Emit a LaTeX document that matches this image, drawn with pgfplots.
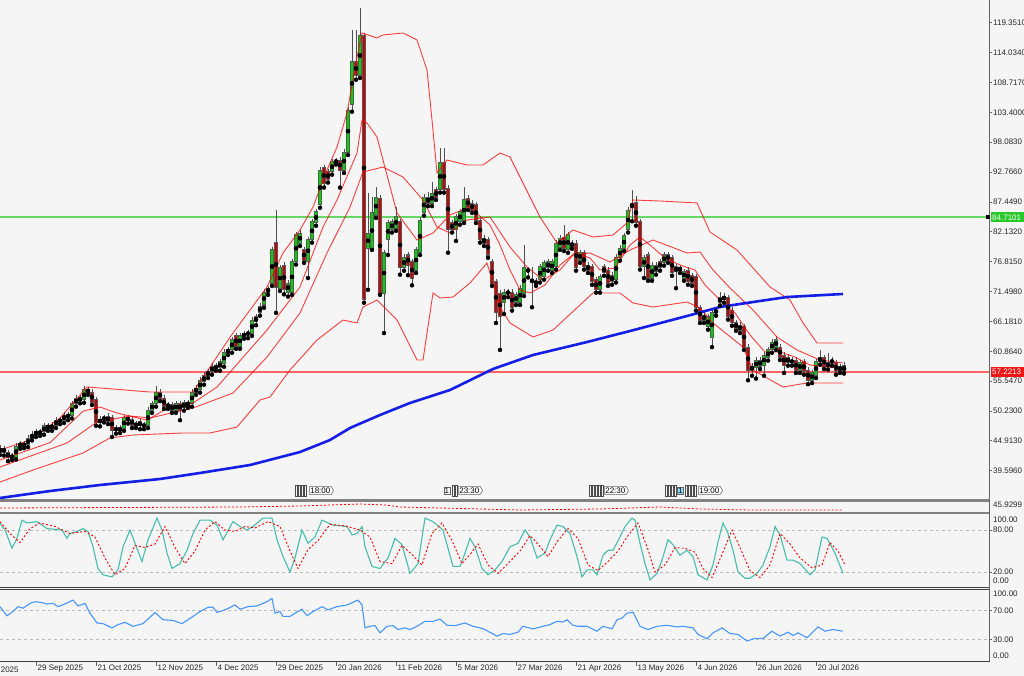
\documentclass[border=0pt]{standalone}
\usepackage{fontspec}
\setmainfont{Liberation Sans}
\usepackage{pgfplots}
\pgfplotsset{compat=1.18}
\usepackage{pgfplotstable}
\usetikzlibrary{shapes.symbols}

\definecolor{bg}{RGB}{245,245,245}
\definecolor{bull}{RGB}{0,215,0}
\definecolor{bear}{RGB}{205,0,0}
\definecolor{wick}{RGB}{80,80,80}
\definecolor{mablue}{RGB}{20,30,230}
\definecolor{stk}{RGB}{70,190,170}
\definecolor{rsib}{RGB}{70,150,255}
\definecolor{levelgreen}{RGB}{100,215,100}
\definecolor{levelred}{RGB}{255,100,100}
\definecolor{boxgreen}{RGB}{40,200,40}
\definecolor{boxred}{RGB}{240,20,20}
\definecolor{sepg}{RGB}{130,130,130}
\definecolor{axg}{RGB}{100,100,100}

\newcommand{\lbl}{\fontsize{8}{9}\selectfont}

\pgfplotstableread{
i O H L C
-9 42.9 44.2 42.4 43.6
-8 43.6 44.0 42.3 42.9
-7 42.9 43.3 41.3 41.9
-6 42.0 42.8 41.5 42.2
-5 42.0 44.5 41.6 44.0
-4 44.0 44.9 43.5 44.4
-3 44.4 44.9 43.6 44.0
-2 44.2 45.9 43.8 45.4
-1 45.4 46.6 45.0 46.1
0 46.1 47.0 45.6 46.5
1 46.5 47.0 45.8 46.3
2 46.5 48.1 46.0 47.6
3 47.6 48.1 46.7 47.2
4 47.2 48.3 46.7 47.7
5 47.7 49.1 47.2 48.6
6 48.6 49.1 47.9 48.4
7 48.6 50.1 48.1 49.5
8 49.5 50.0 48.6 49.2
9 49.4 52.0 48.9 51.5
10 51.5 53.1 51.0 52.5
11 52.5 53.0 51.6 52.2
12 52.2 54.7 51.7 54.0
13 54.0 54.5 53.1 53.6
14 53.6 54.1 51.3 51.8
15 52.2 52.7 47.6 48.1
16 48.1 49.4 47.5 48.8
17 48.8 49.6 48.2 49.0
18 48.4 49.8 47.9 49.2
19 49.0 49.5 45.6 46.8
20 46.8 47.8 46.2 47.2
21 47.2 47.8 46.3 46.8
22 47.2 49.6 46.7 49.0
23 49.0 49.5 48.0 48.6
24 48.8 49.4 47.2 47.7
25 47.7 48.5 47.2 47.9
26 48.3 48.8 47.0 47.6
27 47.6 48.3 47.0 47.7
28 47.7 50.9 47.2 50.4
29 50.4 52.0 49.9 51.5
30 51.5 54.7 51.0 53.6
31 53.6 54.1 52.0 52.5
32 52.5 53.0 50.6 51.1
33 51.1 51.9 50.6 51.3
34 51.3 51.8 49.9 50.4
35 50.4 52.0 49.9 51.5
36 51.5 52.1 48.6 50.4
37 50.8 52.2 50.3 51.7
38 51.7 52.2 50.8 51.3
39 51.5 54.1 51.0 53.6
40 53.6 54.8 53.1 54.3
41 54.0 56.3 53.5 55.7
42 55.4 57.2 54.9 56.6
43 56.6 57.7 56.1 57.2
44 57.2 58.8 56.7 58.2
45 58.2 58.8 57.4 57.9
46 57.9 59.5 57.4 59.0
47 58.6 61.3 58.1 60.7
48 60.7 61.6 60.2 61.1
49 61.1 63.4 60.6 62.9
50 63.6 64.1 61.3 61.8
51 61.8 64.1 61.3 63.6
52 63.6 64.5 63.1 63.9
53 63.9 64.7 63.2 64.1
54 64.1 66.9 63.6 66.4
55 66.1 67.5 65.5 67.0
56 67.7 69.4 67.2 68.9
57 69.1 71.9 68.6 71.4
58 71.4 72.5 70.9 72.0
59 73.0 79.4 72.5 78.9
60 80.3 86.0 67.7 72.3
61 72.1 76.2 71.6 75.7
62 76.2 76.7 71.0 71.8
63 71.4 73.5 70.6 73.0
64 71.4 77.3 70.9 76.8
65 76.8 82.1 76.3 81.6
66 80.1 82.4 79.6 81.9
67 78.9 79.4 76.6 77.1
68 76.8 81.2 73.9 80.7
69 80.7 84.4 80.2 83.9
70 83.7 86.2 83.2 85.7
71 86.9 93.6 86.4 93.1
72 93.5 94.0 90.0 90.8
73 92.8 93.3 90.9 91.4
74 92.8 95.1 92.3 94.6
75 94.7 95.3 94.1 94.6
76 94.9 95.4 90.0 93.1
77 93.1 96.8 92.6 96.3
78 96.3 104.3 95.8 103.8
79 104.7 118.0 103.5 112.4
80 112.4 118.0 109.2 110.0
81 110.0 122.0 109.5 117.0
82 117.0 117.5 69.5 70.0
83 79.2 89.0 71.8 81.9
84 79.2 88.3 78.9 85.5
85 85.1 90.1 84.6 88.3
86 88.1 88.6 70.9 71.2
87 71.2 78.9 64.1 78.4
88 80.7 84.2 78.0 83.7
89 82.5 84.4 82.0 83.9
90 82.8 86.5 82.3 84.8
91 83.9 84.4 74.5 75.7
92 75.7 78.1 75.2 77.6
93 78.0 78.5 74.4 76.2
94 76.8 77.3 72.6 73.9
95 75.3 79.4 74.8 78.9
96 78.5 84.7 78.0 84.2
97 85.5 88.8 85.0 88.3
98 88.3 89.3 86.7 87.2
99 87.2 91.0 86.7 89.0
100 89.6 90.1 87.8 88.3
101 89.6 97.0 89.1 94.4
102 94.4 97.0 89.1 89.6
103 89.9 90.4 78.4 82.5
104 83.7 84.2 82.0 82.5
105 82.5 85.3 80.5 84.8
106 83.9 86.2 83.4 85.7
107 84.2 90.1 83.7 87.8
108 88.1 88.6 86.0 86.5
109 87.2 87.7 85.5 86.0
110 86.9 87.4 83.7 84.2
111 84.2 84.7 80.2 80.7
112 80.1 81.5 79.6 81.0
113 80.7 81.2 77.5 78.0
114 76.8 77.3 72.5 73.0
115 73.2 73.7 65.9 67.7
116 71.2 71.7 61.1 67.0
117 69.5 71.9 67.5 71.4
118 71.4 71.9 70.5 71.2
119 71.4 71.9 68.1 68.6
120 69.6 71.4 69.1 70.9
121 69.6 72.6 69.1 72.1
122 71.2 79.8 70.7 75.7
123 75.3 75.8 74.0 75.2
124 73.2 75.9 68.7 73.6
125 73.0 73.9 72.5 73.2
126 73.6 76.4 73.1 75.9
127 74.1 77.1 73.6 76.6
128 75.7 77.3 75.2 76.8
129 75.3 77.3 74.8 76.8
130 75.9 80.6 75.4 80.1
131 79.4 81.5 78.9 81.0
132 81.2 83.3 78.7 79.2
133 78.9 82.1 78.4 81.6
134 80.1 80.6 79.1 79.6
135 80.1 80.6 75.2 75.7
136 77.1 78.9 76.6 78.4
137 78.4 78.9 75.4 75.9
138 76.2 76.7 74.8 75.3
139 75.9 76.4 72.7 73.2
140 73.6 74.1 71.3 71.8
141 71.8 74.6 71.3 74.1
142 75.9 76.4 74.3 74.8
143 75.3 75.8 72.5 73.0
144 74.4 74.9 72.7 73.2
145 73.6 78.1 73.1 77.6
146 77.5 79.7 77.0 79.2
147 79.2 81.9 78.7 81.4
148 82.5 86.5 82.0 86.0
149 86.4 89.6 84.0 87.2
150 87.4 88.5 83.2 83.7
151 83.9 84.4 75.4 75.9
152 75.9 78.0 73.9 77.5
153 78.0 78.5 73.4 73.9
154 73.9 76.7 73.4 76.2
155 75.0 76.7 74.5 76.2
156 76.8 77.3 75.2 75.7
157 76.6 78.5 76.1 78.0
158 78.0 78.5 76.6 77.1
159 77.5 78.0 74.3 74.8
160 75.0 76.4 72.1 75.9
161 75.7 76.2 74.8 75.3
162 73.9 75.5 73.4 75.0
163 75.3 75.8 72.7 73.2
164 74.3 74.8 72.5 73.0
165 74.1 74.6 68.1 68.6
166 68.6 69.1 65.9 66.4
167 67.3 67.8 65.9 66.4
168 65.2 67.5 64.7 67.0
169 63.4 68.2 61.6 67.7
170 67.7 68.7 67.2 68.2
171 69.5 71.4 69.0 70.5
172 70.0 71.2 69.5 70.7
173 70.4 70.9 66.5 67.0
174 68.2 68.7 65.4 65.9
175 65.9 66.4 64.5 65.0
176 64.6 66.0 64.1 65.5
177 65.2 65.7 61.1 61.6
178 61.6 62.1 55.7 57.5
179 58.2 58.7 56.5 57.5
180 57.9 59.8 56.0 59.3
181 58.2 59.8 57.7 59.3
182 58.4 60.7 56.5 60.2
183 59.7 61.6 59.2 61.1
184 61.1 63.0 60.6 62.5
185 61.6 63.6 61.1 62.9
186 61.6 62.1 59.3 59.8
187 60.2 60.7 57.0 58.4
188 59.8 60.3 58.3 58.8
189 59.3 59.8 58.3 58.8
190 59.3 59.8 57.0 57.5
191 57.5 59.3 57.0 58.8
192 59.0 59.5 56.7 57.2
193 57.5 58.0 55.0 55.7
194 55.7 57.5 55.2 57.0
195 56.6 59.5 56.1 59.0
196 59.0 61.1 58.5 59.8
197 59.7 60.2 57.7 58.2
198 58.1 60.5 57.6 58.8
199 59.3 59.8 58.3 58.8
200 58.8 59.3 56.7 57.2
201 57.5 58.6 57.0 58.1
202 58.4 58.9 56.9 57.2
}\candles

\pgfplotsset{
  panel/.style={scale only axis, width=989pt, xmin=-9, xmax=238.25,
    axis line style={draw=none}, tick align=outside, major tick length=3pt,
    every tick/.style={draw=axg, line width=0.8pt},
    every tick label/.append style={font=\lbl, text=black!85},
    yticklabel style={anchor=west, inner sep=1pt}},
  bb/.style={draw=red, line width=0.9pt, opacity=0.75, mark=none},
}

\begin{document}
\begin{tikzpicture}[x=1pt,y=1pt]
\fill[bg] (0,0) rectangle (1024,676);

% ---------------- main price panel ----------------
\begin{axis}[panel, at={(0pt,177pt)}, anchor=south west, height=499pt,
  ymin=34.57, ymax=123.39, axis x line=none, axis y line*=right,
  ytick={39.596,44.913,50.230,55.547,60.864,66.181,71.498,76.815,82.132,87.449,92.766,98.083,103.400,108.717,114.034,119.351},
  yticklabels={39.5960,44.9130,50.2300,55.5470,60.8640,66.1810,71.4980,76.8150,82.1320,87.4490,92.7660,98.0830,103.4000,108.7170,114.0340,119.3510}]
% horizontal price levels (drawn in axis coordinates)
\draw[levelgreen, line width=1.6pt] (axis cs:-9,84.7101) -- (axis cs:238.25,84.7101);
\draw[levelred, line width=1.6pt] (axis cs:-9,57.2213) -- (axis cs:238.25,57.2213);
% wicks
\addplot[only marks, mark=none, error bars/.cd, y dir=plus, y explicit, error mark=none,
  error bar style={draw=wick, line width=1pt, solid}]
  table[x=i, y=L, y error expr=\thisrow{H}-\thisrow{L}] {\candles};
% body outlines
\addplot[only marks, mark=none, error bars/.cd, y dir=both, y explicit, error mark=none,
  error bar style={draw=black!65, line width=3.3pt, solid}]
  table[x=i, y expr=(\thisrow{O}+\thisrow{C})/2, y error expr=abs(\thisrow{C}-\thisrow{O})/2+0.09] {\candles};
% bull fill
\addplot[only marks, mark=none, error bars/.cd, y dir=both, y explicit, error mark=none,
  error bar style={draw=bull, line width=2.3pt, solid}]
  table[x=i, y expr={\thisrow{C}>=\thisrow{O} ? (\thisrow{O}+\thisrow{C})/2 : nan}, y error expr={max(abs(\thisrow{C}-\thisrow{O})/2-0.09,0)}] {\candles};
% bear fill
\addplot[only marks, mark=none, error bars/.cd, y dir=both, y explicit, error mark=none,
  error bar style={draw=bear, line width=2.3pt, solid}]
  table[x=i, y expr={\thisrow{C}<\thisrow{O} ? (\thisrow{O}+\thisrow{C})/2 : nan}, y error expr={max(abs(\thisrow{C}-\thisrow{O})/2-0.09,0)}] {\candles};
% bands
\addplot[bb] coordinates {(-9,43.29) (-1.5,45.07) (6,48.99) (12.75,54.50) (16,54.33) (28.5,53.61) (39.25,53.61) (49.25,64.12) (57.75,72.30) (61.75,78.36) (66,82.45) (69.25,86.54) (72.75,93.13) (75.25,97.22) (77.75,103.28) (80.25,113.24) (81.5,117.52) (85.25,116.63) (86.75,117.16) (91.75,117.52) (95.25,116.27) (97.75,110.93) (99,102.03) (100.25,92.60) (102.75,94.91) (107.75,94.02) (111.75,94.02) (116,96.16) (118.5,95.44) (121,91.88) (126,84.76) (130.25,80.14) (134.25,82.45) (139.25,81.20) (144.25,81.56) (147.75,83.70) (149.25,87.79) (156,87.61) (165.25,87.26) (168.5,82.09) (175.25,78.89) (183.5,72.30) (188.5,69.99) (191.75,65.90) (195.25,62.34) (201.75,62.34)};
\addplot[bb] coordinates {(-9,41.51) (3.5,44.6) (11.75,50.2) (16,50.94) (20.25,49.88) (27.75,48.6) (33,50.8) (39.25,51.66) (45.25,54.50) (57.75,64.65) (66,72.30) (71.75,82.98) (75.25,87.79) (80.25,96.16) (81.5,102.03) (82.75,101.50) (85.25,99.00) (86.75,94.91) (90.25,85.48) (95.25,80.67) (99.25,81.92) (103.5,85.12) (108.5,86.54) (113.5,83.34) (116,79.78) (118.5,75.33) (121,71.77) (123.5,71.24) (127.25,72.66) (131,76.22) (134.75,78.36) (138.5,77.47) (141,75.33) (144.75,75.69) (148.5,79.78) (151,81.20) (153.5,79.78) (157.25,77.47) (161,76.22) (164.75,75.33) (167.25,72.66) (171,69.99) (174.75,67.68) (178.5,63.76) (182.25,60.73) (186,60.73) (189.75,59.84) (193.5,58.42) (197.25,58.06) (201.75,57.89)};
\addplot[bb] coordinates {(-9,40.26) (7.75,44.54) (15.25,48.27) (23.5,49.34) (28.5,48.99) (39.25,50.77) (49.25,53.44) (57.75,59.84) (66,67.68) (72.75,78.36) (78.5,86.54) (81.75,92.77) (86.75,93.66) (91.75,91.88) (96.75,87.79) (100.25,82.98) (103.5,81.92) (107.75,84.23) (113.5,84.76) (118.5,79.42) (122.75,75.86) (126.75,73.55) (131,75.33) (134.25,78.00) (138.5,78.36) (143.5,76.75) (148.5,78.89) (154.25,80.67) (162.75,78.36) (166,78.53) (169.25,75.33) (173.5,72.13) (179.25,68.21) (185.25,63.40) (190.25,61.09) (196,59.31) (201.75,58.78)};
\addplot[bb] coordinates {(-9,37.59) (-0.75,39.73) (11.75,42.76) (18.5,45.43) (24.25,45.96) (36.75,46.32) (43.5,46.32) (50.25,47.38) (56,52.19) (58.5,52.72) (63.5,57.53) (70.25,62.87) (76.75,66.43) (80.25,65.90) (81.75,68.74) (85.25,69.99) (90.25,66.43) (95.25,59.31) (96.75,59.31) (99.25,71.24) (101,70.35) (104.25,70.52) (108.5,73.02) (112.75,76.58) (116,68.74) (118.5,65.90) (124.25,63.40) (129.25,64.65) (132.75,66.96) (139.25,71.24) (146,71.24) (149.25,69.46) (154.25,68.74) (162.75,69.63) (166,68.57) (169.25,65.90) (176.75,61.62) (179.25,57.53) (186.75,54.50) (192.75,55.22) (201.75,55.22)};
% long moving average
\addplot[draw=mablue, line width=2.6pt, mark=none] coordinates {(-9,34.75) (3.5,35.99) (16,37.06) (31,38.13) (41,39.20) (53.5,40.62) (66,42.93) (73.5,45.07) (78.5,47.21) (86,49.52) (93.5,51.66) (103.5,53.97) (114.25,57.71) (124.25,60.20) (137.75,62.51) (148.5,64.47) (162.75,67.14) (171,68.74) (179.25,69.63) (187.75,70.52) (201.75,71.06)};
\end{axis}

% ---------------- thin panel ----------------
\begin{axis}[panel, at={(0pt,164pt)}, anchor=south west, height=10pt, ymin=0, ymax=10, hide axis]
\addplot[draw=red, line width=0.8pt, dash pattern=on 2pt off 2pt, mark=none] coordinates {(-9,4) (51,5) (66,6) (73.5,7) (81,8) (87.25,7) (91,5) (101,4) (121,2) (141,3) (148.5,4) (156,5) (166,3) (178.5,2) (201.75,2)};
\end{axis}

% ---------------- stochastic panel ----------------
\begin{axis}[panel, at={(0pt,89pt)}, anchor=south west, height=73pt, ymin=-1.43, ymax=102.86,
  axis x line=none, axis y line*=right, ytick={20,80}, yticklabels={20.00,80.00},
  ymajorgrids, major grid style={draw=gray!55, dash pattern=on 3pt off 3pt, line width=0.6pt}]
\addplot[draw=stk, line width=1.1pt, mark=none] coordinates {(-9,89.5) (-7.75,80) (-6,54) (-4.75,68) (-3.5,94) (-2.25,90) (0.25,92) (2.75,82) (6.5,80) (7.75,68) (8.5,75) (10.25,78) (11.75,82) (13,78) (14.25,56) (15.5,25) (16.75,16) (19,13) (20.5,23) (21.75,56) (23.5,80) (24.75,61) (26.5,35) (28,66) (30.25,97) (31.5,80) (32.75,47) (34,25) (36,32) (37.75,51) (39.25,75) (41,94) (43.5,94) (45.25,87) (46.75,66) (49.25,92) (51,85) (52.75,80) (54.25,85) (56.75,97) (59,97) (60.25,66) (61.75,42) (63.5,20) (64.75,40) (66.5,80) (68,61) (69.75,70) (71.5,94) (74.25,87) (77.75,85) (79,73) (80.25,75) (81.5,85) (82.25,56) (84,28) (86,25) (88,40) (89.75,68) (91.5,59) (93.5,18) (95.5,32) (97.25,97) (99.25,92) (101.75,80) (104.25,28) (106,28) (107.25,47) (108.5,68) (109.75,56) (111.5,25) (113,16) (114.75,23) (116.5,35) (118.5,56) (120.5,61) (122.25,80) (123.5,70) (125.25,40) (127.25,47) (128.5,66) (130.25,87) (131.75,85) (133.5,75) (135.25,42) (136.5,13) (137.75,23) (139.25,23) (140.25,16) (141.75,44) (143,51) (144.25,51) (146,70) (147.25,85) (149,97) (149.75,94) (151,61) (152.25,32) (153.5,8.6) (155.25,18) (156.5,37) (158,66) (159.25,59) (161,44) (162.75,51) (164.25,42) (165.5,16) (167.75,8.6) (169.25,30) (170.5,63) (171.75,90) (173,75) (174.25,51) (175.5,20) (177.25,11) (178.5,11) (180.25,18) (181.75,30) (183.5,56) (184.75,85) (186,73) (187.75,37) (189.25,37) (191,32) (193.5,16) (194.75,23) (196.5,70) (197.75,68) (199.75,47) (201.75,18)};
\addplot[draw=red, line width=0.9pt, dash pattern=on 2pt off 2pt, mark=none] coordinates {(-9,92) (-6.5,75) (-4,62) (-1.5,82) (1,90) (4.75,85) (8.5,75) (12.25,78) (14.75,70) (17.25,40) (19.75,16) (22.25,25) (24.75,58) (27.25,55) (29.75,60) (32.25,85) (34.75,55) (37.25,32) (39.75,50) (42.25,80) (44.75,92) (47.25,80) (49.75,78) (52.25,85) (54.75,83) (58,92) (61,85) (63.5,50) (65.5,25) (68,52) (70.5,65) (73.5,88) (77.25,86) (81,80) (83.5,70) (86,35) (89,32) (91.5,58) (94,45) (96.5,30) (99,75) (101.5,90) (104,65) (106.5,32) (108.5,45) (110.5,60) (113,30) (115.5,18) (118,32) (121,50) (123.5,72) (125.5,60) (128,42) (130.5,65) (133,82) (135.5,68) (138,30) (140.5,22) (143,35) (145.5,50) (148,72) (150.5,90) (153,52) (154.75,20) (157.25,30) (159.75,55) (162.25,54) (164.75,48) (166.75,25) (169,12) (171.5,45) (174,80) (176,55) (178.5,22) (181,12) (183.5,30) (186,75) (188.5,60) (191,40) (194,26) (196.5,30) (198.5,62) (200.5,50) (202.25,30)};
\end{axis}

% ---------------- RSI panel ----------------
\begin{axis}[panel, at={(0pt,15pt)}, anchor=south west, height=72pt, ymin=0, ymax=100,
  axis x line*=bottom, axis y line*=right, ytick={30,70}, yticklabels={30.00,70.00},
  xtick={0,15,...,195}, xtick style={/pgfplots/major tick length=5pt},
  xticklabels={29 Sep 2025,21 Oct 2025,12 Nov 2025,4 Dec 2025,29 Dec 2025,20 Jan 2026,11 Feb 2026,5 Mar 2026,27 Mar 2026,21 Apr 2026,13 May 2026,4 Jun 2026,26 Jun 2026,20 Jul 2026},
  xticklabel style={anchor=north west, inner sep=1pt, xshift=0.5pt},
  ymajorgrids, major grid style={draw=gray!55, dash pattern=on 3pt off 3pt, line width=0.6pt}]
\addplot[draw=rsib, line width=1.1pt, mark=none] coordinates {(-9,75.5) (-7.25,62.8) (-5.75,68.7) (-4.5,75.5) (-3.25,73.3) (-1.5,80) (-0.25,82.4) (1.5,81) (2.75,79.2) (4.25,80) (5.5,75.5) (7.25,79.2) (9.25,84.6) (10.5,76.5) (12.25,80) (13.5,66.4) (15.25,52.8) (16.75,51.9) (19,46) (20.5,50.5) (22.25,53.7) (24.25,48.2) (26.75,51.9) (29.75,67.3) (31.75,57.3) (34.25,56.4) (36.5,51.9) (39,61) (41,68.7) (43,74.6) (44.25,74.6) (45.25,67.3) (47.25,71) (49.75,77.8) (51,71.9) (53,75.5) (55.25,76.5) (57.75,82.4) (59,86.9) (59.75,66.4) (61,68.7) (61.75,61.9) (63.5,61.9) (64.75,66.4) (66.5,71.9) (67.75,62.8) (69.25,68.7) (71.5,75.5) (73,71) (75.25,75.5) (77.75,77.8) (80.5,84.6) (81.5,77.8) (82.25,46) (83.5,48.2) (84.75,49.1) (86,39.1) (87.75,48.2) (89.25,49.1) (90.5,43.7) (92.25,46) (93.5,43.7) (95.25,48.2) (97.25,55.1) (99.25,55.1) (101,58.2) (102.75,49.6) (104.75,49.1) (107.25,52.8) (109.25,48.2) (111.75,45) (115.25,34.6) (116.75,38.2) (118.5,36.9) (120.5,40) (121.75,48.2) (124.25,44.6) (126.75,48.2) (128.5,50.5) (130.25,55.1) (131.75,54.2) (132.75,57.3) (134.25,49.6) (135.5,48.2) (137.75,48.2) (140.25,41.4) (141.75,48.2) (144,44.6) (145.25,57.3) (146.5,59.6) (147.75,66.4) (149.25,67.8) (151,48.2) (153,43.7) (155.25,48.2) (157.75,49.6) (160.25,47.3) (161.75,48.2) (164.25,46) (165.5,36.9) (167.75,30.9) (169.25,39.1) (171.5,46) (173.5,38.2) (175.5,36.9) (177.75,27.8) (179.75,31.4) (181.75,31.4) (184,41.4) (186,34.6) (188,40) (189.25,35.5) (190.5,39.1) (192.75,32.3) (195.5,47.3) (197.25,41.4) (199.25,43.7) (201.75,41.4)};
\end{axis}

% ---------------- frame, separators ----------------
\draw[sepg, line width=2.6pt] (0,175.5) -- (990,175.5);
\draw[sepg, line width=2.6pt] (0,163) -- (990,163);
\draw[black!75, line width=0.9pt] (0,88.6) -- (990,88.6);
\draw[black!75, line width=0.9pt] (0,86.8) -- (990,86.8);
\draw[black!75, line width=0.9pt] (0,15) -- (990,15);
\draw[axg, line width=1pt] (989.5,15) -- (989.5,676);

% extra panel labels
\node[anchor=west, font=\lbl, inner sep=1pt, text=black!85] at (992,171) {45.9299};
\node[anchor=west, font=\lbl, inner sep=1pt, text=black!85] at (992,156.5) {100.00};
\node[anchor=west, font=\lbl, inner sep=1pt, text=black!85] at (992,95) {0.00};
\node[anchor=west, font=\lbl, inner sep=1pt, text=black!85] at (992,82) {100.00};
\node[anchor=west, font=\lbl, inner sep=1pt, text=black!85] at (992,20.5) {0.00};
\node[anchor=north west, font=\lbl, inner sep=1pt, text=black!85] at (-23.5,10) {8 Sep 2025};

% price boxes
\fill[boxgreen] (990.5,453.7) rectangle (1024,463.7);
\node[anchor=west, font=\lbl, inner sep=0pt, text=white] at (992,458.7) {84.7101};
\fill[black] (986,456.7) rectangle (990,460.7);
\fill[boxred] (990.5,299.3) rectangle (1024,309.3);
\node[anchor=west, font=\lbl, inner sep=0pt, text=white] at (992,304.3) {57.2213};

% event markers
\foreach \xx in {296,299,302,305} {\draw[black!70, line width=0.5pt] (\xx-1,180) rectangle (\xx+1,191);}
\node[signal, signal to=east, signal pointer angle=120, draw=black!60, fill=white, line width=0.6pt, inner sep=1pt, font=\lbl, anchor=west] at (309,185.5) {18:00};
\node[draw=black!60, fill=white, line width=0.6pt, inner sep=0.8pt, font=\lbl, anchor=west] at (443.5,185.5) {1};
\foreach \xx in {453,456} {\draw[black!70, line width=0.5pt] (\xx-1,180) rectangle (\xx+1,191);}
\node[signal, signal to=east, signal pointer angle=120, draw=black!60, fill=white, line width=0.6pt, inner sep=1pt, font=\lbl, anchor=west] at (458,185.5) {23:30};
\foreach \xx in {590,593,596,599,602} {\draw[black!70, line width=0.5pt] (\xx-1,180) rectangle (\xx+1,191);}
\node[signal, signal to=east, signal pointer angle=120, draw=black!60, fill=white, line width=0.6pt, inner sep=1pt, font=\lbl, anchor=west] at (604,185.5) {22:30};
\foreach \xx in {666,669,672,675} {\draw[black!70, line width=0.5pt] (\xx-1,180) rectangle (\xx+1,191);}
\node[draw=black!60, fill=cyan!45, line width=0.6pt, inner sep=0.8pt, font=\lbl, anchor=west] at (677,185.5) {1};
\foreach \xx in {686,689,692,695} {\draw[black!70, line width=0.5pt] (\xx-1,180) rectangle (\xx+1,191);}
\node[signal, signal to=east, signal pointer angle=120, draw=black!60, fill=white, line width=0.6pt, inner sep=1pt, font=\lbl, anchor=west] at (698,185.5) {19:00};

\pgfresetboundingbox
\useasboundingbox (0,0) rectangle (1024,676);
\end{tikzpicture}
\end{document}
